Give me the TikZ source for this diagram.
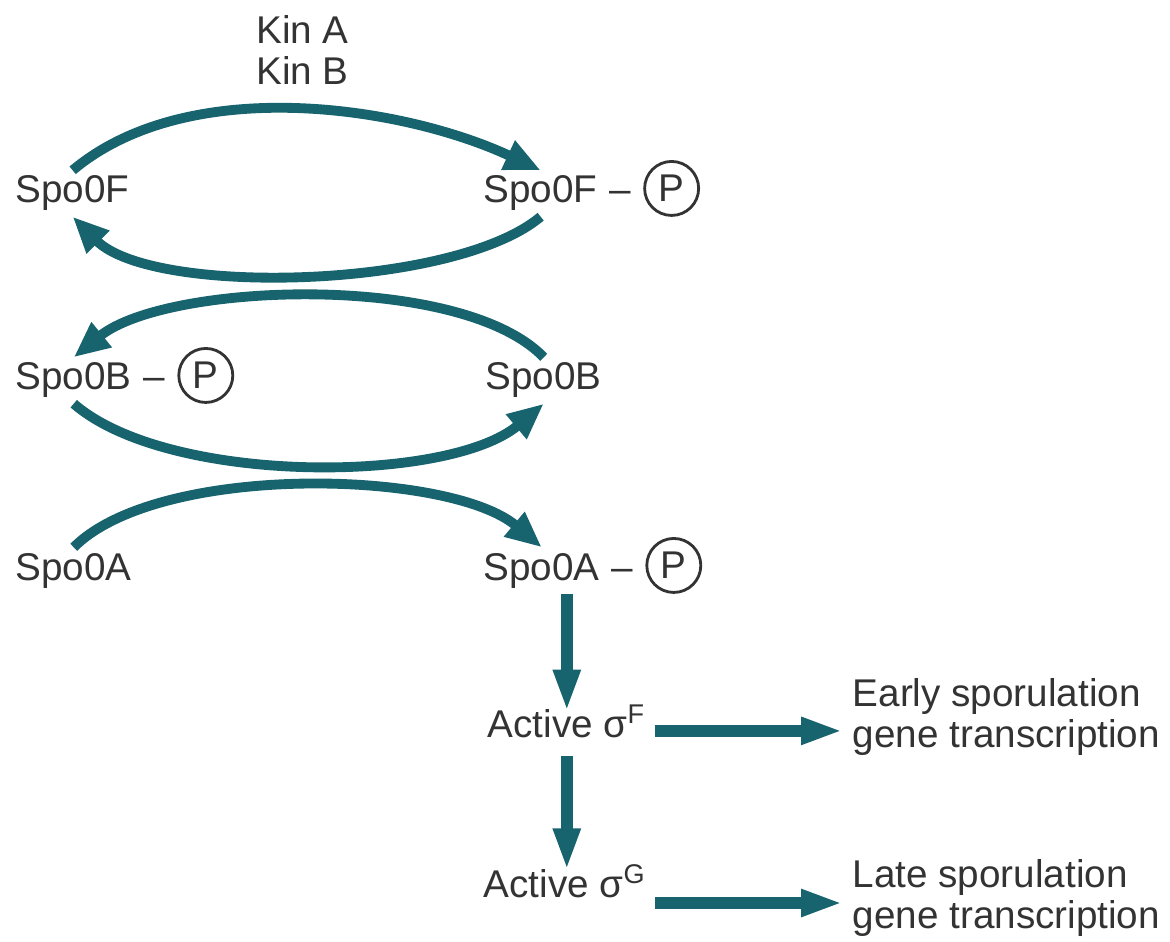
\documentclass[tikz,border=0pt]{standalone}
\usepackage{fontspec}
\setmainfont{Liberation Sans}
\usetikzlibrary{arrows.meta}
\usetikzlibrary{positioning}
\definecolor{DarkTeal}{HTML}{17636E}
\definecolor{TextGrey}{HTML}{333333}

\begin{document}
\begin{tikzpicture}[
  every node/.style={font=\fontsize{11pt}{11.6pt}\selectfont, text=TextGrey},
  prot/.style={inner xsep=0pt, inner ysep=0.05cm, anchor=base west},
  sig/.style={inner xsep=0.08cm, inner ysep=0.05cm, anchor=base west},
  gene/.style={align=left, inner xsep=0.09cm, anchor=west},
  bond/.style={inner sep=0pt, anchor=base west},
  phos/.style={circle, draw=TextGrey, line width=0.8pt, minimum size=0.54cm, inner sep=0pt},
  cyc/.style={DarkTeal, line width=2.8pt, -{Triangle[length=0.36cm,width=0.3cm]}},
  flow/.style={DarkTeal, line width=3.4pt, -{Triangle[length=0.42cm,width=0.25cm]}}]
  \useasboundingbox (0,0) rectangle (11.7,-9.42);

  \node[align=center, anchor=north, inner sep=0pt] (kin) at (3.025,-0.15) {Kin A\\Kin B};

  % phosphorelay
  \node[prot] (f) at (0.15,-2.03) {Spo0F};
  \node[prot] (fp) at (4.83,-2.03) {Spo0F};
  \node[bond] (fpd) at ([xshift=0.1cm]fp.base east) {\textendash};
  \node[phos, right=0.12cm of fpd, yshift=0.09cm] (fpP) {P};

  \node[prot] (bp) at (0.15,-3.90) {Spo0B};
  \node[bond] (bpd) at ([xshift=0.1cm]bp.base east) {\textendash};
  \node[phos, right=0.12cm of bpd, yshift=0.09cm] (bpP) {P};
  \node[prot] (b) at (4.85,-3.90) {Spo0B};

  \node[prot] (a) at (0.15,-5.80) {Spo0A};
  \node[prot] (ap) at (4.83,-5.80) {Spo0A};
  \node[bond] (apd) at ([xshift=0.1cm]ap.base east) {\textendash};
  \node[phos, right=0.12cm of apd, yshift=0.09cm] (apP) {P};

  % sigma factors
  \node[sig] (sf) at (4.79,-7.37) {Active σ\textsuperscript{F}};
  \node[sig] (sg) at (4.75,-8.97) {Active σ\textsuperscript{G}};
  \node[gene] (early) at (8.43,-7.17) {Early sporulation\\gene transcription};
  \node[gene] (late) at (8.43,-8.98) {Late sporulation\\gene transcription};

  \draw[cyc] (f.north) to[out=40,in=155,looseness=0.83] (fp.north);
  \draw[cyc] (fp.south) to[out=-140,in=-45,looseness=0.62] (f.south);
  \draw[cyc] (b.north) to[out=134,in=39,looseness=0.65] (bp.north);
  \draw[cyc] (bp.south) to[out=-41,in=-140,looseness=0.68] (b.south);
  \draw[cyc] (a.north) to[out=45,in=140,looseness=0.66] (ap.north);

  \draw[flow] (sf.north |- ap.south) -- ([yshift=-0.13cm]sf.north);
  \draw[flow] ([yshift=-0.13cm]sf.south) -- ([yshift=-0.12cm]sf.south |- sg.north);
  \draw[flow] ([yshift=-1mm]sf.east) -- ([yshift=-1mm]sf.east -| early.west);
  \draw[flow] ([yshift=-0.5mm]late.west -| sg.east) -- ([yshift=-0.5mm]late.west);
\end{tikzpicture}
\end{document}
